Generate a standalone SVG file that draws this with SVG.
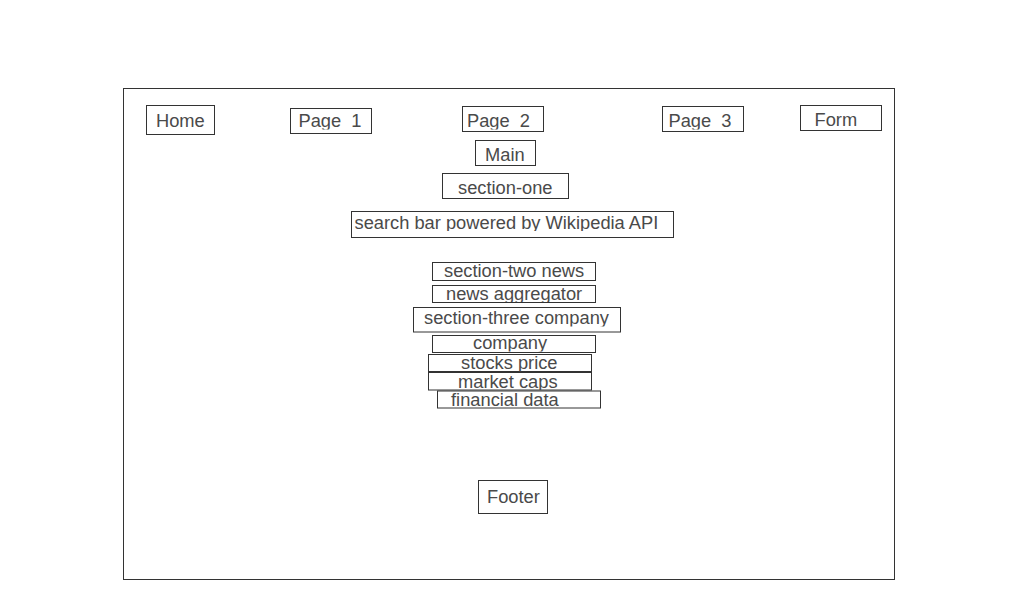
<svg xmlns="http://www.w3.org/2000/svg" width="1024" height="600" viewBox="0 0 1024 600">
  <style>
    rect.b { fill: none; stroke: #333; stroke-width: 1; }
    text { font-family: "Liberation Sans", Arial, sans-serif; font-size: 18.3px; fill: #4a4a4a; }
  </style>
  <defs>
    <clipPath id="c-p1"><rect x="290" y="100" width="82" height="29.5"/></clipPath>
    <clipPath id="c-p2"><rect x="462" y="100" width="82" height="29.5"/></clipPath>
    <clipPath id="c-p3"><rect x="662" y="100" width="82" height="29.5"/></clipPath>
    <clipPath id="c-search"><rect x="351" y="205" width="323" height="26"/></clipPath>
    <clipPath id="c-agg"><rect x="432" y="280" width="164" height="22"/></clipPath>
    <clipPath id="c-three"><rect x="413" y="300" width="208" height="26.5"/></clipPath>
    <clipPath id="c-company"><rect x="432" y="330" width="164" height="21.5"/></clipPath>
    <clipPath id="c-stocks"><rect x="428" y="350" width="164" height="21.5"/></clipPath>
    <clipPath id="c-caps"><rect x="428" y="370" width="164" height="20"/></clipPath>
    <clipPath id="c-fin"><rect x="437" y="388" width="164" height="20"/></clipPath>
  </defs>

  <g id="page">
    <rect class="b" x="123.5" y="88.5" width="771" height="491"/>
  </g>

  <g id="connectors"></g>

  <g id="home">
    <rect class="b" x="146.5" y="105.5" width="68" height="29"/>
    <text x="156" y="127">Home</text>
  </g>
  <g id="page1">
    <rect class="b" x="290.5" y="108.5" width="81" height="25"/>
    <text x="298.5" y="127" xml:space="preserve" clip-path="url(#c-p1)">Page  1</text>
  </g>
  <g id="page2">
    <rect class="b" x="462.5" y="106.5" width="81" height="25"/>
    <text x="467" y="127" xml:space="preserve" clip-path="url(#c-p2)">Page  2</text>
  </g>
  <g id="page3">
    <rect class="b" x="662.5" y="106.5" width="81" height="25"/>
    <text x="668.5" y="127" xml:space="preserve" clip-path="url(#c-p3)">Page  3</text>
  </g>
  <g id="form">
    <rect class="b" x="800.5" y="105.5" width="81" height="25"/>
    <text x="814.5" y="126">Form</text>
  </g>
  <g id="main">
    <rect class="b" x="475.5" y="140.5" width="60" height="25"/>
    <text x="485" y="161">Main</text>
  </g>
  <g id="section-one">
    <rect class="b" x="442.5" y="173.5" width="126" height="25"/>
    <text x="458" y="193.5">section-one</text>
  </g>
  <g id="search-bar">
    <rect class="b" x="351.5" y="211.5" width="322" height="26"/>
    <text x="354.5" y="228.5" clip-path="url(#c-search)">search bar powered by Wikipedia API</text>
  </g>
  <g id="section-two">
    <rect class="b" x="432.5" y="262.5" width="163" height="18"/>
    <text x="444" y="277">section-two news</text>
  </g>
  <g id="news-aggregator">
    <rect class="b" x="432.5" y="285.5" width="163" height="17"/>
    <text x="446" y="299.5" clip-path="url(#c-agg)">news aggregator</text>
  </g>
  <g id="section-three">
    <rect class="b" x="413.5" y="307.5" width="207" height="24.5"/>
    <text x="424" y="324" clip-path="url(#c-three)">section-three company</text>
  </g>
  <g id="company">
    <rect class="b" x="432.5" y="335.5" width="163" height="17"/>
    <text x="473" y="349" clip-path="url(#c-company)">company</text>
  </g>
  <g id="stocks-price">
    <rect class="b" x="428.5" y="354.5" width="163" height="17"/>
    <text x="461" y="369" clip-path="url(#c-stocks)">stocks price</text>
  </g>
  <g id="market-caps">
    <rect class="b" x="428.5" y="372.5" width="163" height="17.5"/>
    <text x="458" y="388" clip-path="url(#c-caps)">market caps</text>
  </g>
  <g id="financial-data">
    <rect class="b" x="437.5" y="391" width="163" height="17"/>
    <text x="451" y="405.5" clip-path="url(#c-fin)">financial data</text>
  </g>
  <g id="footer">
    <rect class="b" x="478.5" y="480.5" width="69" height="33"/>
    <text x="487" y="503">Footer</text>
  </g>
</svg>
